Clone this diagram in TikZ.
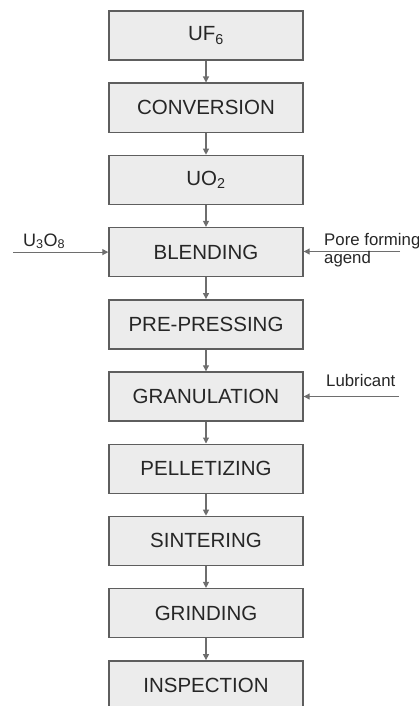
\documentclass[tikz,border=0pt]{standalone}
\usepackage{fontspec}
\setmainfont{Liberation Sans}
\usetikzlibrary{arrows.meta}
\definecolor{boxfill}{HTML}{ECECEC}
\definecolor{boxline}{HTML}{5E5E5E}
\definecolor{flowline}{HTML}{6E6E6E}
\definecolor{txt}{HTML}{262626}
\tikzset{
  stage/.style={draw=boxline, line width=1.4pt, fill=boxfill, minimum width=194pt,
    minimum height=49pt, inner sep=0pt, text=txt, font=\fontsize{20.5}{23}\selectfont},
  flow/.style={draw=flowline, line width=1.1pt, -{Triangle[length=6pt,width=6pt]}},
  feed/.style={text=txt, font=\fontsize{16.8}{18}\selectfont, inner sep=0pt, anchor=base west, align=left}
}
\begin{document}
\begin{tikzpicture}[x=1pt,y=-1pt]
\useasboundingbox (0,0) rectangle (419,706);
\clip (0,0) rectangle (419,706);
% process chain, top to bottom
\node[stage] (s0) at (206,35.5)  {UF\textsubscript{6}};
\node[stage] (s1) at (206,107.7) {CONVERSION};
\node[stage] (s2) at (206,179.9) {UO\textsubscript{2}};
\node[stage] (s3) at (206,252.1) {BLENDING};
\node[stage] (s4) at (206,324.3) {PRE-PRESSING};
\node[stage] (s5) at (206,396.5) {GRANULATION};
\node[stage] (s6) at (206,468.7) {PELLETIZING};
\node[stage] (s7) at (206,540.9) {SINTERING};
\node[stage] (s8) at (206,613.1) {GRINDING};
\node[stage] (s9) at (206,685.3) {INSPECTION};
\foreach \a/\b in {s0/s1,s1/s2,s2/s3,s3/s4,s4/s5,s5/s6,s6/s7,s7/s8,s8/s9}
  \draw[flow] (\a) -- (\b);
% side feeds
\coordinate (uin) at (13,252.1);
\coordinate (pin) at (400,251.5);
\coordinate (lin) at (399,396.5);
\draw[flow] (uin) -- (s3.west);
\draw[flow] (pin) -- (s3.east |- pin);
\draw[flow] (lin) -- (s5.east);
\node[feed, font=\fontsize{18}{20}\selectfont] (u3o8) at (23,246) {U\textsubscript{3}O\textsubscript{8}};
\node[feed] (pore) at (324,245) {Pore forming};
\node[feed] (agend) at (324,263) {agend};
\node[feed] (lub) at (326,386) {Lubricant};
\end{tikzpicture}
\end{document}
